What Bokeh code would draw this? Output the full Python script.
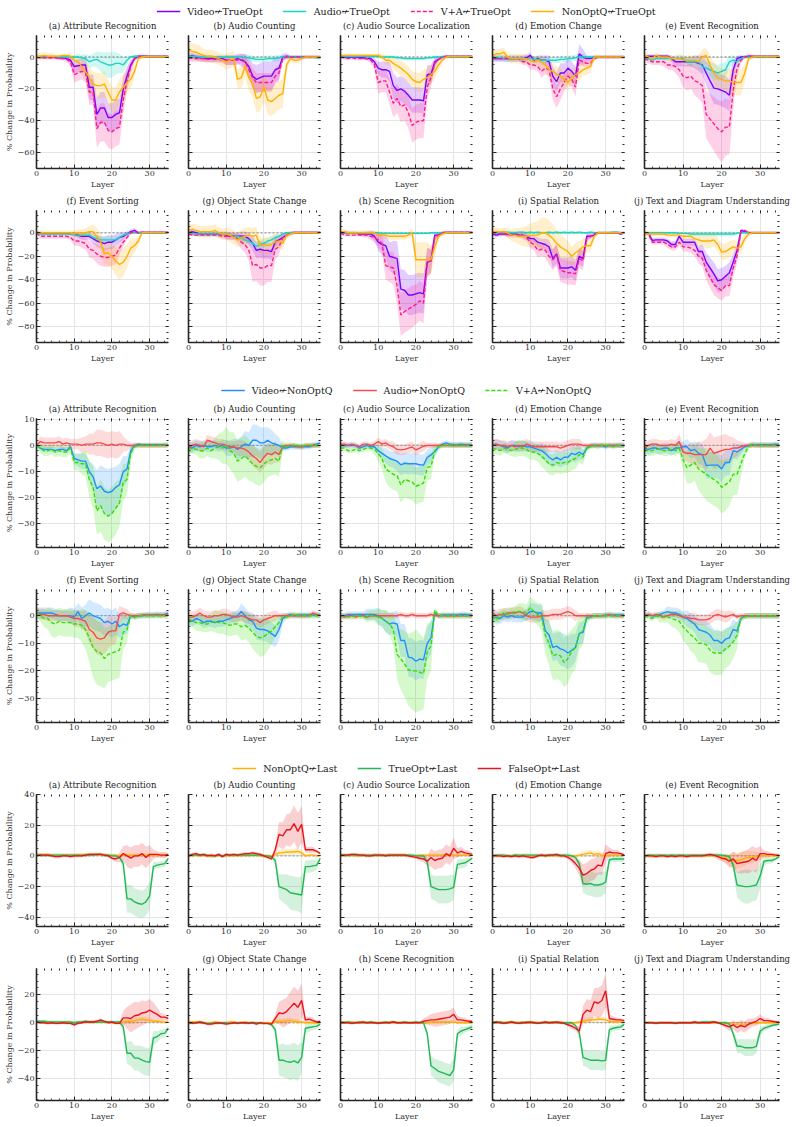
from bokeh.plotting import figure
from bokeh.layouts import column, row
from bokeh.models import (ColumnDataSource, Range1d, LinearAxis, SingleIntervalTicker,
                          Span, Legend, LegendItem, CustomJSTickFormatter, CustomLabelingPolicy)
from bokeh.embed import file_html
from bokeh.resources import INLINE

LAYERS = list(range(36))
TASKS = ["(a) Attribute Recognition", "(b) Audio Counting", "(c) Audio Source Localization",
         "(d) Emotion Change", "(e) Event Recognition", "(f) Event Sorting",
         "(g) Object State Change", "(h) Scene Recognition", "(i) Spatial Relation",
         "(j) Text and Diagram Understanding"]

FLAT_SD = [1,1,1,1,1,1,  1,1,1,1,1,1,  1,1,1,1,1,1,  1,1,1,1,1,1,  1,1,1,1,1,1,  1,1,1,1,1,1]

# ---------------- knockout towards the true option ----------------
TRUE_LABELS = ["Video\u219aTrueOpt", "Audio\u219aTrueOpt", "V+A\u219aTrueOpt", "NonOptQ\u219aTrueOpt"]
TRUE_COLORS = ["#7f00ff", "#18d6c3", "#ff1a8c", "#ffb000"]
TRUE_DASH = ["solid", "solid", "4 2", "solid"]

t_a_video = [0,0,0,0,0,0,  -0.5,-0.5,-1,-2,-6,-5.5,  -5,-5,-19,-19,-36,-32,  -32,-38,-38,-36,-35,-20,  -12,-5,-1,0.5,0.5,0.5,  0.3,0.3,0.3,0.3,0.3,0.3]
t_a_video_sd = [1,1,1,1,1,1,  1,1,1,2,4,4,  4,5,8,8,10,10,  10,9,9,9,9,8,  6,3,1,1,1,1,  1,1,1,1,1,1]
t_a_audio = [0,0,0,0,0,0,  0,0,0,0,0,0,  -0.5,-1,-3,-2,-1.5,-3,  -4,-5,-5,-4,-4,-5,  -2,0,0.5,0.3,0.3,0.3,  0.3,0.3,0.3,0.3,0.3,0.3]
t_a_audio_sd = [1,1,1,1,1,1,  1,1,1,1,1,2,  2,3,4,4,5,6,  7,8,8,7,6,5,  3,1,1,1,1,1,  1,1,1,1,1,1]
t_a_va = [0,-0.5,-0.5,-0.5,-0.5,-0.5,  -1,-1,-1.5,-3,-11,-10,  -9,-10,-22,-22,-45,-41,  -41,-46,-47,-45,-44,-27,  -15,-6,-1,0,0.3,0.3,  0.3,0.3,0.3,0.3,0.3,0.3]
t_a_va_sd = [1,1,1,1,1,1,  1,1,2,3,5,5,  5,6,8,8,12,12,  12,11,11,11,11,9,  7,4,2,1,1,1,  1,1,1,1,1,1]
t_a_nonopt = [0.5,0.5,1,0.5,0.5,0.5,  0.5,1,1,0.5,-2,-3,  -6,-9,-13,-17,-18,-18,  -17,-22,-27,-27,-22,-19,  -16,-14,-9,-1,0,0.3,  0.3,0.3,0.3,0.3,0.3,0.3]
t_a_nonopt_sd = [2,2,2,2,2,1,  1,1,1,2,3,4,  5,6,7,8,8,8,  8,8,8,8,8,8,  7,6,4,1,1,1,  1,1,1,1,1,1]

t_b_video = [0,1,0,-0.5,-1,-1,  -1,-1,-1,-1,-2,-2,  -2,-1,-2,-3,-6,-12,  -14,-13,-12,-12,-12,-8,  -7,0,0.5,0,0,0,  0,0,0,0,0,0]
t_b_video_sd = [2,2,2,2,2,2,  2,2,2,2,3,3,  3,3,4,5,6,8,  9,9,9,9,9,8,  7,2,2,1,1,1,  1,1,1,1,1,1]
t_b_audio = [0.5,0.5,0.5,0,0,0,  0,-0.5,0,0,0,0,  0,0,0,-0.5,-0.5,-1,  -1.5,-1.5,-1.5,-1,-1,-1,  -0.5,0,0,0,0,0,  0,0,0,0,-0.5,-0.5]
t_b_audio_sd = [1,1,1,1,1,1,  1,1,1,1,1,1,  1,1,1,2,2,2,  2,2,2,2,2,2,  2,1,1,1,1,1,  1,1,1,1,1,1]
t_b_va = [-0.5,-1,-1,-1,-1,-1.5,  -1.5,-1.5,-1.5,-2,-2,-2,  -2,-2,-1,-3,-8,-13,  -16,-16,-16,-16,-16,-12,  -10,-1,0,0,0,0,  0,0,0,0,0,0]
t_b_va_sd = [2,2,2,2,2,2,  2,2,2,2,3,3,  3,3,3,4,5,6,  6,6,6,6,6,5,  5,2,1,1,1,1,  1,1,1,1,1,1]
t_b_nonopt = [4,3.5,3,2,1,0.5,  0.5,0,-1,-2,-3,-2,  -1,-14,-13,-6,-13,-17,  -26,-25,-19,-27,-28,-26,  -24,-23,-5,-1,-2,-2,  -1,0,0,0,0,0]
t_b_nonopt_sd = [5,5,5,5,4,4,  4,4,4,4,5,5,  5,6,7,7,8,8,  9,9,9,9,9,9,  9,9,4,2,2,2,  1,1,1,1,1,1]

t_c_video = [0,0,0,0,0,0,  -0.5,-1,-1,-3,-7,-8,  -8,-9,-18,-21,-20,-21.5,  -24,-27,-27,-27,-27.5,-11,  -11,-3,-1.5,0,0.3,0.3,  0.3,0.3,0.3,0.3,0.3,0.3]
t_c_video_sd = [1,1,1,1,1,1,  1,1,1,2,4,5,  5,6,8,8,8,8,  8,8,8,8,8,6,  6,3,1,1,1,1,  1,1,1,1,1,1]
t_c_audio = [0.5,0.5,0.5,0.5,0.5,0.5,  0.5,0.5,0.5,0.5,0.5,0,  0,0,0,-0.5,-0.5,-1,  -1,-1,-1,-1,-1,-0.5,  -0.5,0,0,0,0,0,  0,0,0,0,0,0]
t_c_audio_sd = FLAT_SD
t_c_va = [0,-0.5,-1,-0.5,-1,-1,  -1,-1,-2,-5,-16,-15,  -15,-22,-29,-26,-31,-30,  -35,-43,-41,-40,-40,-19,  -13,-4,-1.5,0,0.3,0.3,  0.3,0.3,0.3,0.3,0.3,0.3]
t_c_va_sd = [1,1,1,1,1,1,  1,1,2,3,7,7,  7,8,9,9,10,10,  10,11,11,11,11,8,  6,3,1,1,1,1,  1,1,1,1,1,1]
t_c_nonopt = [1,1,1,1,1,1,  1,1,1,1,1,0,  -2,-2,-4,-5.5,-7,-9,  -11,-14,-15.5,-16,-14,-13,  -11,-9,-5,-2,0,0.3,  0.3,0.3,0.3,0.3,0.3,0.3]
t_c_nonopt_sd = [1,1,1,1,1,1,  1,1,1,1,1,2,  3,3,4,4,5,5,  5,5,6,6,6,6,  6,5,3,2,1,1,  1,1,1,1,1,1]

t_d_video = [-1,-1,-1,-1,-1,-1,  -1,-1,-1,-0.5,1,-2,  -1,-2,-2,-3,-12,-15.5,  -10,-10,-7,-9,-12,2,  0,-1,-1,0,0,0,  0,0,0,0,0,0]
t_d_video_sd = [2,2,2,2,2,2,  2,2,2,2,2,2,  2,3,3,4,6,6,  6,6,6,6,6,6,  5,2,2,1,1,1,  1,1,1,1,1,1]
t_d_audio = [0,-0.5,-0.5,-1,-1,-1,  -1,-1,-1,-1,-1,-1.5,  -1.5,-2,-2,-2,-2,-2,  -1.5,-1.5,-1,-1,-0.5,0,  0,0,0,0,0,0,  0,0,0,0,0,0]
t_d_audio_sd = [2,2,2,2,2,2,  2,2,2,2,2,2,  2,2,2,2,2,2,  2,2,2,2,2,2,  2,1,1,1,1,1,  1,1,1,1,1,1]
t_d_va = [-1,-1,-1,-1,-1,-1,  -1,-1,-3,-3,-5,-5,  -6,-9,-7,-8,-20,-25,  -20,-16,-12,-14,-19,-2,  -3,-4,-4,-1,0,0,  0,0,0,0,0,0]
t_d_va_sd = [1,1,1,1,1,1,  1,1,2,2,3,3,  3,4,4,4,7,7,  7,6,5,5,6,3,  3,2,2,1,1,1,  1,1,1,1,1,1]
t_d_nonopt = [1,2,2,3,0,-1,  -1,-1,-1,-1,-2,-3,  -2,-3,-5,-8,-9,-11,  -12,-14,-16,-13,-11,-10,  -8,-7,-6,0,0,0,  0,0,0,0,0,0]
t_d_nonopt_sd = [3,3,3,3,3,3,  3,3,3,3,3,3,  3,4,4,5,5,5,  5,5,5,5,5,5,  4,4,4,2,1,1,  1,1,1,1,1,1]

t_e_video = [0,0.5,0.5,0.5,0.5,0.5,  0.5,-1,-3,-3,-3,-3,  -3,-3,-4,-5,-10,-15,  -19.5,-20,-21,-22,-24,-8,  -1,0,0,0.5,0.3,0.3,  0.3,0.3,0.3,0.3,0.3,0.3]
t_e_video_sd = [1,1,1,1,1,1,  1,2,3,3,3,3,  3,4,5,6,8,9,  10,10,10,10,10,6,  2,1,1,1,1,1,  1,1,1,1,1,1]
t_e_audio = [0,-1,-2,-1,-1,-1,  -1,-1,-1,-1,-1,-3,  -3,-3,-3,-6,-7,-8,  -9,-10,-9,-8,-3,-2,  -3,-1,0,0,0,0,  0,0,0,0,0,0]
t_e_audio_sd = [1,1,1,1,1,1,  1,1,2,2,2,2,  3,3,3,4,4,5,  5,5,5,5,4,3,  3,2,1,1,1,1,  1,1,1,1,1,1]
t_e_va = [-1,-2,-3,-3,-3,-3,  -5,-5,-6,-8,-12,-13,  -12,-15,-16,-18,-36,-39,  -42,-45,-47,-44,-44,-21,  -7,-2,0,0.5,0.3,0.3,  0.3,0.3,0.3,0.3,0.3,0.3]
t_e_va_sd = [2,2,2,2,2,3,  3,3,4,5,7,8,  8,9,10,11,15,16,  17,18,19,18,17,12,  5,2,1,1,1,1,  1,1,1,1,1,1]
t_e_nonopt = [1,0,-1,1,0,0,  0,-1,-1,-1,-2,-2,  -2,-2,-3,0,1,-5,  -10,-13,-14,-15,-15,-16,  -16,-16,-10,-1,0,0.3,  0.3,0.3,0.3,0.3,0.3,0.3]
t_e_nonopt_sd = [2,2,2,2,2,2,  2,2,2,3,3,3,  3,3,4,5,5,6,  7,7,7,7,8,8,  8,8,6,2,1,1,  1,1,1,1,1,1]

t_f_video = [0,0,-0.5,-0.5,-0.5,-0.5,  -0.5,-0.5,-0.5,-1,-1,-2,  -3,-3,-3,-5,-7,-8,  -9.3,-8,-8,-6,-4,-3,  -1,1,2,0,0.3,0.3,  0.3,0.3,0.3,0.3,0.3,0.3]
t_f_video_sd = [1,1,1,1,1,1,  1,1,1,1,2,2,  3,3,3,4,5,5,  6,6,6,5,4,3,  2,2,2,1,1,1,  1,1,1,1,1,1]
t_f_audio = [0,-1,-1,-1,-1,-1,  -1,-1,-1,-1,-2,-2,  -2,-2,-2,-4,-5,-6,  -6,-6,-6,-6,-4,-2,  -1,0,0,0,0,0,  0,0,0,0,0,0]
t_f_audio_sd = [1,1,1,1,1,1,  1,1,1,1,1,2,  2,2,2,2,3,3,  3,3,3,3,2,2,  1,1,1,1,1,1,  1,1,1,1,1,1]
t_f_va = [0,-3,-3,-3,-3,-3,  -3,-3,-3,-4,-7,-7,  -8,-9,-14,-15,-18,-20,  -21,-21,-20,-19,-13,-8,  -4,0,1,0,0.3,0.3,  0.3,0.3,0.3,0.3,0.3,0.3]
t_f_va_sd = [1,2,2,2,2,2,  2,2,2,2,4,4,  5,5,7,7,8,8,  8,8,8,8,6,4,  2,1,1,1,1,1,  1,1,1,1,1,1]
t_f_nonopt = [0.5,0,0,0,0,0,  0,0,0,0,-1,0,  -1,0,1,1,-3,-8,  -18,-17,-20,-24,-27,-25,  -20,-13,-11,-7,0,0.3,  0.3,0.3,0.3,0.3,0.3,0.3]
t_f_nonopt_sd = [2,2,2,2,2,2,  2,2,2,2,3,3,  4,4,5,6,7,8,  9,10,11,12,13,12,  10,8,6,4,1,1,  1,1,1,1,1,1]

t_g_video = [0,1,0,-1,-1,-1,  -1,-1,-1,-1,-2,-3,  -3,-3,-3,-3,-5,-9,  -15,-14,-15,-15,-16,-8,  -6,-4,-2,0,0.3,0.3,  0.3,0.3,0.3,0.3,0.3,0.3]
t_g_video_sd = [2,2,2,2,2,2,  2,2,2,2,3,3,  3,3,4,4,5,6,  7,7,7,7,7,5,  4,3,2,1,1,1,  1,1,1,1,1,1]
t_g_audio = [0,-1,-1,-1,-1,-1,  -1,-1,-1,-1,-1,-2,  -3,-3,-4,-6,-7,-9,  -11.5,-10,-9,-7,-6,-4,  -3,-1,0,0,0,0,  0,0,0,0,0,0]
t_g_audio_sd = [1,1,1,1,1,1,  1,1,1,1,2,2,  2,2,3,3,3,4,  4,4,4,3,3,3,  2,1,1,1,1,1,  1,1,1,1,1,1]
t_g_va = [-1,-2,-2,-2,-2,-2,  -2,-2,-2,-3,-3,-3,  -3,-5,-8,-10,-15,-28,  -27,-30,-30,-28,-28,-14,  -12,-4,-2,-1,0,0,  0,0,0,0,0,0]
t_g_va_sd = [1,1,1,1,1,1,  1,1,2,2,3,3,  3,4,6,7,9,14,  14,15,15,14,14,9,  7,3,2,1,1,1,  1,1,1,1,1,1]
t_g_nonopt = [2,3,2,1,1,1,  1,2,0,-1,-1,-2,  -4,-6,-4,-3,-2,-3,  -2,-11,-10,-11,-10,-8,  -7,-9,-2,-1,0,0,  0,0,0,0,0,0]
t_g_nonopt_sd = [5,5,5,5,5,5,  5,5,5,5,5,6,  6,6,7,7,7,7,  7,7,7,7,7,7,  6,5,3,2,1,1,  1,1,1,1,1,1]

t_h_video = [0,0,0,0,0,-1,  -1,-1,-1,-3,-8,-10,  -11,-20,-21,-22,-48,-49,  -53,-53,-52,-51,-52,-25,  -24,-2,-2,0,0.3,0.3,  0.3,0.3,0.3,0.3,0.3,0.3]
t_h_video_sd = [1,1,1,1,1,1,  2,2,3,4,7,9,  10,12,14,15,17,17,  17,17,17,17,17,12,  10,3,2,1,1,1,  1,1,1,1,1,1]
t_h_audio = [0,0,0,0,0,0,  0,0,0,0,0,-0.5,  -0.5,-0.5,-0.5,-0.5,-0.5,-0.5,  -0.5,-0.5,-0.5,-0.5,-0.5,-0.5,  0,0,0,0,0,0,  0,0,0,0,0,0]
t_h_audio_sd = FLAT_SD
t_h_va = [0,-2,-2,-2,-2,-2,  -2,-2,-3,-4,-6,-9,  -28,-29,-30,-45,-70,-67,  -65,-63,-61,-58,-60,-25,  -24,-4,-2,0,0.3,0.3,  0.3,0.3,0.3,0.3,0.3,0.3]
t_h_va_sd = [1,1,1,1,1,1,  2,2,3,4,6,8,  12,13,14,16,18,18,  18,18,17,17,17,12,  10,3,2,1,1,1,  1,1,1,1,1,1]
t_h_nonopt = [1,1,0,0,0,0,  0,0,0,0,-2,-2,  -2,-3,-3,-3,-3,-3,  -2,0,-23,-23,-23,-23,  -23,-12,-3,-1,0,0,  0,0,0,0,0,0]
t_h_nonopt_sd = [2,2,2,2,2,2,  2,2,2,2,3,3,  3,3,3,3,3,3,  3,3,15,15,15,15,  12,8,3,2,1,1,  1,1,1,1,1,1]

t_i_video = [-1,-2,-1,-1,-1,-1,  -1,-2,-2,-3,-5,-5,  -8,-9,-10,-12,-22,-18,  -30,-30,-30,-29,-32,-20,  -22,-3,-3,-2,0,0,  0,0,0,0,-1,0]
t_i_video_sd = [2,2,2,2,2,2,  2,2,2,3,3,3,  4,4,5,6,8,8,  9,9,9,9,9,7,  7,3,2,1,1,1,  1,1,1,1,1,1]
t_i_audio = [0.5,0,0.5,0,0.5,0,  0,0.5,0.5,0,0.5,0,  0.5,0,0,0.5,0,0.5,  0,0.5,0,0.5,0,0.5,  0,0,0.5,0,0,0,  0,0,0.5,0.5,0,0]
t_i_audio_sd = FLAT_SD
t_i_va = [0,0,-1,0,-2,-2,  -2,-2,-2,-4,-8,-10,  -15,-14,-15,-20,-23,-19,  -32,-33,-34,-34,-35,-22,  -24,-5,-3,-1,0,0,  0,0,0,0,0,0]
t_i_va_sd = [2,2,2,2,2,2,  2,2,3,3,5,5,  6,6,6,7,9,9,  10,10,10,10,10,8,  8,3,2,1,1,1,  1,1,1,1,1,1]
t_i_nonopt = [1,1,1,1,0,-2,  -2,-3,-3,-3,-2,-2,  -2,0,0,-2,-5,-9,  -12,-14,-16,-20,-17,-15,  -12,-11,-11,-3,0,0,  0,0,0,0,0,0]
t_i_nonopt_sd = [3,3,3,3,4,5,  6,7,8,9,10,11,  12,13,13,13,12,12,  11,10,9,8,8,8,  7,6,5,3,1,1,  1,1,1,1,1,1]

t_j_video = [0,0,-6.5,-6,-6,-6,  -7,-10,-10,-3,-8,-8,  -8,-8,-16,-16,-25,-30,  -35,-41,-40,-37,-34,-25,  -15,2,1,0,0,0,  0,0,0,0,0,0]
t_j_video_sd = [1,1,2,2,2,2,  2,3,3,2,3,3,  3,3,5,6,8,9,  10,10,10,9,9,7,  5,2,1,1,1,1,  1,1,1,1,1,1]
t_j_audio = [0,0,0,0,0,0,  0,0,0,-0.5,-0.5,-0.5,  -1,-1,-1,-1,-1,-1,  -1,-1,-1,-1,-1,-1,  -0.5,0,0,0,0,0,  0,0,0,0,0,0]
t_j_audio_sd = [1,1,1,1,1,1,  1,1,1,1,1,1,  2,2,2,2,2,2,  2,2,2,2,2,2,  1,1,1,1,1,1,  1,1,1,1,1,1]
t_j_va = [0,-1,-8,-8,-8,-8,  -10,-12,-12,-8,-12,-12,  -13,-15,-20,-22,-32,-38,  -44,-47,-49,-45,-45,-30,  -20,1,2,0,0,0,  0,0,0,0,0,0]
t_j_va_sd = [1,1,2,2,2,2,  3,3,3,3,4,4,  4,5,6,7,8,9,  9,9,9,9,9,8,  6,2,1,1,1,1,  1,1,1,1,1,1]
t_j_nonopt = [-1,-1,-1,-1,-1,-1,  -2,-2,-2,-2,-3,-3,  -3,-5,-6,-7,-7,-7,  -6,-10,-16.5,-16,-14,-12,  -13,-12,-5,-1,0,0,  0,0,0,0,0,0]
t_j_nonopt_sd = [2,2,2,2,2,2,  2,2,2,3,3,3,  3,4,5,5,6,6,  6,6,7,7,7,6,  6,6,4,2,1,1,  1,1,1,1,1,1]

# ---------------- knockout towards the non-option question ----------------
NONOPT_LABELS = ["Video\u219aNonOptQ", "Audio\u219aNonOptQ", "V+A\u219aNonOptQ"]
NONOPT_COLORS = ["#1e90ff", "#f44c4c", "#33e000"]
NONOPT_DASH = ["solid", "solid", "4 2"]

n_a_video = [0,-1,-1.5,-1.5,-1.5,-2,  -1.5,-1.5,-2,-0.5,-5,-5.5,  -6,-6,-10,-12,-16.5,-15.5,  -17.5,-18,-17.5,-16,-15,-10,  -9,-2,0,0.5,0.3,0.3,  0.3,0.3,0.3,0.3,0.3,0.3]
n_a_video_sd = [0.5,1,1,1,1,1,  1,1,1,1,2,2.5,  3,3,4,5,7,8,  9,9,9,8,8,6,  5,2,1,0.5,0.5,0.5,  0.5,0.5,0.5,0.5,0.5,0.5]
n_a_audio = [0,1.5,1,1,1,1,  1.5,0.5,1,0.5,0.5,0.5,  0,0.5,0.5,0.5,1,1,  0.5,0,0.5,0,0.5,0.5,  0,0,0,0,0,0,  0,0,0,0,0,0]
n_a_audio_sd = [1,2,2,2,2,2,  2,2,2,2,2,2,  3,3,4,4,5,5,  5,5,5,5,5,3,  2,1,1,1,1,1,  1,1,1,1,1,1]
n_a_va = [0,-1,-2,-2,-1.5,-2.5,  -2,-2.5,-2.5,-1,-6.5,-6.5,  -7,-7,-13,-16,-25,-23,  -26,-27,-26,-24,-22,-14,  -13,-3,-0.5,0,0,0,  0,0,0,0,0,0.5]
n_a_va_sd = [1,2,2,2,2,2,  2,2,2,2,3,3,  4,5,7,8,9,10,  10,10,10,10,9,7,  6,3,1,1,1,1,  1,1,1,1,1,1]

n_b_video = [-0.5,-1,0,-0.5,0,-0.5,  -0.5,0,-0.5,0,-1,-1,  -0.5,-1.5,-0.5,0.5,0,2,  2,1,1,2,1,0.5,  0,-1,-1,-0.5,-0.5,-0.5,  -0.5,-0.5,-0.5,0,0.5,1]
n_b_video_sd = [2,2,2,2,2,2,  2,2,2,2,3,3,  3,4,4,5,5,6,  6,6,6,5,5,4,  3,1,1,1,1,1,  1,1,1,1,1,1]
n_b_audio = [-1,0,0.5,0,-0.5,2,  1.5,1,0.5,0.5,0,-0.5,  -0.5,-1,-1,-1.5,-2.5,-4,  -5,-6.5,-4.5,-3,-3.5,-2.5,  -3.5,-0.5,0,0,0,-0.5,  -0.5,0,0,0,0,0]
n_b_audio_sd = [2,2,2,2,2,2,  2,2,2,2,2,2,  2,3,3,3,3,4,  4,4,4,4,4,4,  3,1,1,1,1,1,  1,1,1,1,1,1]
n_b_va = [-1.5,-1,-1.5,-2,-2,-1,  -2,-1,-0.5,-1,0,-2,  -3,-6,-5,-4,-5.5,-7,  -8,-8.5,-7,-6,-5.5,-5,  -6,0,-0.5,0,0,0,  -0.5,0,0,0,0,0]
n_b_va_sd = [2,2,2,3,3,3,  3,4,5,6,7,7,  8,8,8,8,8,7,  7,7,7,6,6,6,  6,2,1,1,1,1,  1,1,1,1,1,1]

n_c_video = [0,0,0,0,0,-1,  -0.5,0,-0.5,-0.5,-2,-3,  -4,-5,-5.5,-6,-7.4,-6.8,  -7,-7,-7,-7.4,-7.5,-4.6,  -3.6,-2.4,-0.6,0.4,1,0.5,  0.3,0.3,0.5,0.3,0.3,0.3]
n_c_video_sd = [1,1,1,1,1,1,  1,1,1,1,2,2,  3,3,3,4,4,4,  4,4,4,4,4,3,  3,2,1,1,1,1,  1,1,1,1,1,1]
n_c_audio = [0.5,0.5,0,0.5,0,-0.5,  0.5,0.5,0,0.5,1.5,0.5,  1,0,-0.5,-1.5,-1.7,-1.5,  -1,-0.6,-1.7,-1,-0.3,0,  0,0,0,0,0,0,  0,0,0,0,0,0]
n_c_audio_sd = [1,1,1,1,1,1,  1,1,1,1,1.5,1.5,  1.5,1.5,2,2,2,2,  2,2,2,2,2,1,  1,1,1,1,1,1,  1,1,1,1,1,1]
n_c_va = [-1,-1,-2,-2,-1.5,-2,  -1.5,-1,-1,-1.5,-3,-5,  -9,-10,-11,-11.5,-15,-13,  -13.5,-14,-15.6,-15,-14.4,-8.4,  -8,-2,-0.5,0,0,0,  0,0,0,0,0,0]
n_c_va_sd = [1,1,1,1,1,1,  1,1,1,2,3,4,  5,6,6,6,7,7,  7,7,7,7,7,5,  5,2,1,1,1,1,  1,1,1,1,1,1]

n_d_video = [0,0.5,0,-0.5,-1,0,  0,-0.5,0,-0.5,-0.5,-1,  -1.5,-2,-3,-4.5,-5.5,-4.5,  -5.5,-4.5,-4.5,-3,-3.5,-2.5,  -3.5,-1,0,0,0,0,  -0.5,0,0,0,0,0]
n_d_video_sd = [2,2,2,2,2,2,  2,2,2,2,2,2,  2,3,3,3,3,3,  3,3,3,3,3,3,  2,1,1,1,1,1,  1,1,1,1,1,1]
n_d_audio = [0.5,0.5,0,0,-0.5,0,  -0.5,0,-0.5,0.5,0,-0.5,  -0.5,-0.5,-0.5,-0.5,-0.5,-0.5,  -1,-0.5,0,0.5,0.5,0.5,  0,0,0,0,0,0,  0,0,0,0,0,0]
n_d_audio_sd = [2,2,2,2,2,2,  2,2,2,2,2,2,  2,2,2,2,2,2,  2,2,2,2,2,2,  1,1,1,1,1,1,  1,1,1,1,1,1]
n_d_va = [-1,-1.5,-2,-1,-1.5,-2,  -1.5,-1,-1,-1.5,-2.5,-2.5,  -3,-4,-5.5,-7,-7.5,-6.5,  -7,-6.5,-6.5,-5.5,-5,-3.5,  -4.5,-1,-0.5,0,-0.5,0,  0,0,-0.5,0,0,0]
n_d_va_sd = [2,2,2,2,2,2,  3,3,3,3,3,3,  3,4,4,4,4,4,  4,4,4,4,4,3,  3,1,1,1,1,1,  1,1,1,1,1,1]

n_e_video = [-1,-1.5,-1,-1,-1.5,-1,  -1,-2,-1,-1,-0.5,-0.5,  -2,-1.5,-3,-3.5,-7.7,-7.5,  -7.5,-7.5,-9,-6.5,-6.5,-2,  -2.5,-1.5,-0.5,0,0.3,0.3,  0.3,0.3,0.3,0.3,0.5,0.3]
n_e_video_sd = [2,2,2,2,2,2,  2,2,2,2,2,3,  3,3,4,4,5,5,  5,5,5,5,5,3,  3,2,1,1,1,1,  1,1,1,1,1,1]
n_e_audio = [-1,0,0.5,0.5,0,0,  0,0.5,0,1.5,-2.5,-3,  -3,-3.5,-3.5,-3.5,-3.5,-1,  -3,-2.5,-2,-1.5,-1.5,-1,  -1,-0.5,0,0,0,0,  0,0,0,0,0,0]
n_e_audio_sd = [2,2,2,2,2,2,  2,2,2,3,3,3,  4,4,5,5,6,6,  6,6,6,6,5,4,  3,2,1,1,1,1,  1,1,1,1,1,1]
n_e_va = [-1.5,-2,-2,-1.5,-1.5,-2,  -2,-1.5,-2,-1,-5.5,-8.5,  -7.5,-6.5,-9,-10,-11,-12,  -13,-14,-16,-15,-14,-11,  -11,-7,-3,-0.5,0.5,0,  0,0,0,0,0,0]
n_e_va_sd = [2,2,2,2,2,2,  2,2,2,2,4,6,  7,7,8,9,10,10,  10,10,10,10,9,8,  8,5,2,1,1,1,  1,1,1,1,1,1]

n_f_video = [1,1,1,1,1,0.5,  0,0,0,0,-0.5,1.5,  -1,0,1,0,-0.5,-1,  -2.5,-2,-3,-2,-4,-3,  -3.5,0,-0.5,0,0,0.3,  0.3,0.3,0.5,0.3,0.5,1]
n_f_video_sd = [2,2,2,2,2,2,  2,2,2,3,3,3,  4,4,5,5,5,5,  5,5,5,5,4,4,  3,1,1,1,1,1,  1,1,1,1,1,1]
n_f_audio = [1,0.5,0.5,0,0,0,  0,0,0,-0.5,-1,-1,  -1.5,-2,-5,-6,-8,-8.5,  -8,-6,-5.5,-5.5,0.5,1,  0.5,0,0,0,0.3,0.3,  0.3,0.3,0.3,0.3,0.3,0.5]
n_f_audio_sd = [2,2,2,2,2,2,  2,2,2,2,3,3,  3,4,5,6,6,6,  6,6,5,5,3,2,  2,1,1,1,1,1,  1,1,1,1,1,1]
n_f_va = [1,0,-1,-1,-2.5,-3,  -2,-2.5,-2.5,-2.5,-3,-3,  -3.5,-5,-8,-11.5,-13,-13.5,  -15.5,-14,-13.5,-13,-12.5,-6,  -5,0,-0.5,0,0,0,  0,0,0,0,0,0]
n_f_va_sd = [2,2,3,4,5,5,  5,5,5,5,5,5,  6,7,9,11,12,12,  11,10,10,10,10,6,  5,1,1,1,1,1,  1,1,1,1,1,1]

n_g_video = [-1.5,-2,-1,-1.5,-2.5,-2,  -2,-2.5,-2,-2,-1.5,-1,  -0.5,0,1.5,0,-1.5,-2,  -4.5,-5,-5,-5.5,-6.5,-7.5,  -5,-1,0,0.5,0,0.3,  0.3,0.3,0.3,0.3,0.3,0.3]
n_g_video_sd = [2,2,2,2,2,2,  2,2,2,2,2,2,  2,2,3,3,3,3,  4,4,4,4,4,4,  4,2,1,1,1,1,  1,1,1,1,1,1]
n_g_audio = [-0.5,-0.5,0,1,0,-0.5,  -0.5,0,0,0.5,0.5,0,  -0.5,-0.5,0,-0.5,-1,-1.5,  -1.5,-2.5,-1.5,-1,-0.5,0,  0,0,0,0,0,0,  0,0,0,1,0.5,0]
n_g_audio_sd = [2,2,2,2,2,2,  2,2,2,2,2,2,  2,2,2,2,2,2,  2,2,2,2,2,2,  1,1,1,1,1,1,  1,1,1,1,1,1]
n_g_va = [-1,-2,-2.5,-2.5,-3,-3,  -2.5,-2,-2.5,-2.5,-3,-3.5,  -3,-3,-4,-3.5,-4.5,-6,  -7.5,-8,-7.5,-6.5,-5.5,-4,  -2.5,-0.5,-0.5,0,0.5,0,  0,0,0,0,0,0]
n_g_va_sd = [2,2,3,3,3,3,  3,4,4,4,4,4,  4,4,5,5,5,6,  6,7,7,6,5,4,  3,1,1,1,1,1,  1,1,1,1,1,1]

n_h_video = [0,0,0.5,0.5,0.5,0.5,  0.5,0.5,0.5,0.5,0,-1,  -2,-3,-2.6,-3,-9,-9,  -15,-15.3,-16.5,-15.7,-16,-10,  -8,1,0,0.3,0.3,0.3,  0.3,0.3,0.5,0.5,0.3,0.3]
n_h_video_sd = [1,1,1,1,1,1,  1,2,2,2,3,3,  4,4,4,5,6,6,  7,7,7,7,7,6,  6,1,1,1,1,1,  1,1,1,1,1,1]
n_h_audio = [0,-0.5,0,0,-0.5,0,  0,-0.5,0,0,0,0,  0,0,0,0,0.5,0,  0,0.5,0,0,0,0,  0.5,0,0,0,0,0,  0,0,0,0,0,0]
n_h_audio_sd = FLAT_SD
n_h_va = [0,0,-0.5,-0.5,0,0,  -0.5,-0.5,0,0,-0.5,-1,  -2,-3,-5,-14,-15.7,-17.5,  -19.6,-20,-20,-20.5,-21,-13,  -11,2,0,0,0,0,  0,0,0,0,0,0]
n_h_va_sd = [1,1,1,1,1,1,  1,2,2,2,3,3,  4,4,6,9,11,12,  13,14,15,14,13,10,  9,1,1,1,1,1,  1,1,1,1,1,1]

n_i_video = [-0.5,-0.5,-1,0,-0.5,0,  -0.5,-0.5,-0.5,0.5,1.5,1.5,  1,1,-5.5,-7,-11.5,-11,  -12,-12.5,-13.5,-12.5,-11.5,-6.5,  -6,-0.5,-0.5,0,0,0,  0.3,0.3,0.3,0.3,0.3,0.3]
n_i_video_sd = [2,2,2,2,2,2,  2,2,2,2,3,3,  3,3,4,5,5,5,  6,6,6,6,5,4,  4,1,1,1,1,1,  1,1,1,1,1,1]
n_i_audio = [1,0,0.5,0.5,1,1,  1,1.5,1,0,-0.5,-0.5,  -0.5,0,0,0,0.5,0.5,  0.5,1,1.5,1,0,0,  0,0,0,0,0,0,  0,0.5,0,0,0,0]
n_i_audio_sd = [2,2,2,2,2,2,  2,2,2,2,2,2,  2,2,2,2,2,2,  2,2,2,2,2,1,  1,1,1,1,1,1,  1,1,1,1,1,1]
n_i_va = [0,-1.5,0,1,0.5,1,  1.5,1.5,1.5,1,3,1.5,  0.5,-0.5,-7,-10,-14.5,-14,  -14.5,-17,-15.5,-13,-11.5,-6.5,  -5.5,-1,-0.5,0,0,0,  0,0,0,0,0,0]
n_i_va_sd = [2,2,2,2,2,2,  2,3,3,3,4,4,  4,5,7,8,9,9,  9,9,9,8,8,6,  5,2,1,1,1,1,  1,1,1,1,1,1]

n_j_video = [0,0.5,0,0,0.5,1,  1.5,1,1,0.5,-0.5,-1,  -2,-3,-5,-5.5,-6,-7,  -9,-9,-10,-8.5,-8,-5,  -5.5,-1,0,0,0,0,  0,0,0,0,0,0]
n_j_video_sd = [1,1,1,1,1,1,  2,2,2,2,2,3,  3,3,4,4,4,4,  4,4,4,4,4,4,  3,1,1,1,1,1,  1,1,1,1,1,1]
n_j_audio = [0,0.5,0,0.5,0,-0.5,  0,0.5,0.5,0,-0.5,-0.5,  -1,-1,-1.5,-1.5,-1.5,-1,  0,0.5,0,-0.5,0,0.5,  -0.5,0,0,0,0,0,  0,0,0,0,0,0]
n_j_audio_sd = [1,1,1,1,1,1,  1,1,1,1,1,1,  2,2,2,2,2,2,  2,2,2,2,2,1,  1,1,1,1,1,1,  1,1,1,1,1,1]
n_j_va = [0,-0.5,-1,0,-0.5,-0.5,  -0.5,-1,-1.5,-2,-4,-5.5,  -7,-8,-10,-10,-10.5,-12.5,  -13.5,-13.5,-13.5,-12,-11,-9.5,  -7,-1,-0.5,0,0,0,  0,0,0,0,0,0]
n_j_va_sd = [1,1,1,1,2,2,  2,3,3,4,5,5,  6,6,7,7,7,8,  8,8,8,7,7,6,  5,1,1,1,1,1,  1,1,1,1,1,1]

# ---------------- knockout towards the last position ----------------
LAST_LABELS = ["NonOptQ\u219aLast", "TrueOpt\u219aLast", "FalseOpt\u219aLast"]
LAST_COLORS = ["#ffb000", "#22b856", "#e6141b"]
LAST_DASH = ["solid", "solid", "solid"]

l_a_nonopt = [1,1,0.5,1,0.5,0.5,  0.5,0.5,0.5,0.5,0.5,1,  0.5,1,1,1,1,1,  0.5,0.5,0.5,0.5,0,0.5,  0.5,0.5,0.5,0.5,0.5,0.5,  0.5,0.5,0.5,0.5,0.5,0.5]
l_a_nonopt_sd = FLAT_SD
l_a_true = [0,0.5,0.5,0.5,0.5,0.5,  0.5,0.5,0.5,0.5,0.5,0.5,  0.5,0.5,0.5,0.5,1,1,  0.5,0.5,0,0,-1,-5,  -28,-28,-30,-31,-31.5,-30,  -26,-7,-6,-5.5,-5,-1.5]
l_a_true_sd = [1,1,1,1,1,1,  1,1,1,1,1,1,  1,1,1,1,1,1,  1,1,1,1,1,3,  9,9,9,9,9,9,  9,3,2,2,2,1]
l_a_false = [0.5,0.5,0.5,0.5,0,-0.5,  -0.5,0,0,-0.5,0,0,  0,0.5,1,1,1,1,  0.5,0,-1.5,-2,-1,1.5,  0,-1.5,0,0,1.5,-1,  1,1,1,0.5,0.5,1]
l_a_false_sd = [1,1,1,1,1,1,  1,1,1,1,1,1,  1,1,1,1,1,1,  1,1,1,2,3,5,  7,7,7,7,7,7,  6,3,2,2,2,1]

l_b_nonopt = [0.5,0,1,0,0.5,0,  -0.5,0,0.5,0,0,0.5,  0,0.5,0,0.5,0,0.5,  0.5,0,0,0,0,1,  2,2,2.5,2.5,2.5,3,  2,0,0.5,0.5,0,0]
l_b_nonopt_sd = [1,1,1,1,1,1,  1,1,1,1,1,1,  1,1,1,1,1,1,  1,1,1,1,1,1,  2,2,2,2,2,2,  2,1,1,1,1,1]
l_b_true = [0,0.5,0.5,0.5,0.5,0.5,  0,0,0.5,0,0.5,0.5,  0.5,0.5,0.5,0.5,0.5,0.5,  0.5,0.5,0,0,-0.5,-3,  -20,-21,-22,-24,-24.5,-25,  -25.5,-7,-7,-6.5,-6,-1.5]
l_b_true_sd = [1,1,1,1,1,1,  1,1,1,1,1,1,  1,1,1,1,1,1,  1,1,1,1,1,3,  8,9,10,11,11,11,  12,4,4,4,3,1]
l_b_false = [0,1,1.5,0.5,1,0,  0.5,0,1,-0.5,1,0.5,  1,0.5,1,1.5,1.5,2,  1.5,1,0,-1,-2,4,  14,13,17,17,21,16,  20.5,4,4,4,3,1.5]
l_b_false_sd = [1,1,1,1,1,1,  1,1,1,1,1,1,  1,1,1,1,1,1,  1,1,1,1,1,3,  8,9,10,11,12,12,  12,2,2,2,1,1]

l_c_nonopt = [0.5,0,0.5,0.5,0,0,  0.5,0.5,0,0.5,0.5,0,  0.5,0.5,0.5,0.5,0.5,0.5,  0.5,0,0,0.5,0.5,0.5,  0.5,0.5,0.5,0.5,0.5,0.5,  0.5,0.5,0.5,0.5,0.5,0.5]
l_c_nonopt_sd = FLAT_SD
l_c_true = [0.5,0.5,0.5,0.5,0.5,0.5,  0.5,0.5,0.5,0.5,0.5,0.5,  0.5,0.5,0.5,0.5,0.5,0.5,  0.5,0.5,0,0,0,-4,  -20,-21,-22,-22,-22,-21.5,  -20.5,-5.5,-5,-4.5,-3,-1.5]
l_c_true_sd = [1,1,1,1,1,1,  1,1,1,1,1,1,  1,1,1,1,1,1,  1,1,1,1,1,3,  8,8,9,9,9,9,  8,3,3,3,2,1]
l_c_false = [0.5,0.5,0.5,1,1,0.5,  0.5,0,0,0.5,0.5,0.5,  0,0.5,0.5,0.5,0.5,0.5,  0,-0.5,-1,-1.5,-2,-3.5,  -1,-3,-2,-1.5,1.5,0,  5,2,3,2,1.5,1]
l_c_false_sd = [1,1,1,1,1,1,  1,1,1,1,1,1,  1,1,1,1,1,1,  1,1,1,2,2,3,  6,6,6,6,6,6,  7,3,3,2,2,1]

l_d_nonopt = [0.5,0,0,0.5,0,0,  0.5,0,0,0.5,0,0,  0,0.5,0,0,0.5,0,  0,0,0,0,0,0.5,  1,1.5,2,1,1.5,0.5,  0,0.5,0.5,0.5,0.5,0.5]
l_d_nonopt_sd = [1,1,1,1,1,1,  1,1,1,1,1,1,  1,1,1,1,1,1,  1,1,1,1,1,1,  2,2,2,2,2,2,  1,1,1,1,1,1]
l_d_true = [0,0.5,0.5,0.5,0,0,  0.5,0.5,0.5,0.5,0.5,0.5,  0.5,0.5,0.5,0.5,0.5,0.5,  0.5,0.5,0.5,0,-1,-5,  -18,-18.5,-18,-19,-19,-18.5,  -17,-2.5,-2,-2,-2,-2]
l_d_true_sd = [1,1,1,1,1,1,  1,1,1,1,1,1,  1,1,1,1,1,1,  1,1,1,1,1,3,  6,7,8,8,8,8,  7,2,2,2,2,2]
l_d_false = [0,0,0,-0.5,0,-0.5,  0,-0.5,0,-0.5,-1,-1,  0,0.5,0,0.5,0.5,1,  0,0,-1,-2.5,-5,-8,  -12.5,-11.5,-9.5,-8.5,-6,-6.5,  1.5,2.5,2,2,1.5,0.5]
l_d_false_sd = [1,1,1,1,1,1,  1,1,1,1,1,1,  1,1,1,1,1,1,  1,1,1,2,3,5,  7,7,7,7,6,6,  6,3,2,2,1,1]

l_e_nonopt = [0,0,-0.5,0,0,0,  -0.5,0,0,0,-0.5,0,  0,0,0,0,0,0,  0,0,-1,-1.5,-2.5,-3,  -3,-2.5,-1.5,-1,-1,-0.5,  0,0,0,0,0,0]
l_e_nonopt_sd = [1,1,1,1,1,1,  1,1,1,1,1,1,  1,1,1,1,1,1,  1,1,2,3,4,5,  5,5,5,4,4,3,  2,1,1,1,1,1]
l_e_true = [0,0.5,0.5,0.5,0.5,0.5,  0.5,0.5,0.5,0.5,0.5,0.5,  0.5,0.5,0.5,0.5,0.5,0.5,  0.5,0.5,0.5,0,-0.5,-6,  -19,-19.5,-20,-20,-19.5,-19,  -13,-3.5,-3,-3,-2,-0.5]
l_e_true_sd = [1,1,1,1,1,1,  1,1,1,1,1,1,  1,1,1,1,1,1,  1,1,1,1,1,4,  8,10,11,11,10,10,  8,3,2,2,1,1]
l_e_false = [0,0,0,-0.5,0,0,  -0.5,0,-0.5,0,0,-0.5,  0,0,0,0,0.5,1,  0.5,-0.5,-1.5,-2,-3.5,-2,  -5,-4.5,-4,-3.5,-1.5,-3,  1.5,1.5,1,1,0.5,0.5]
l_e_false_sd = [1,1,1,1,1,1,  1,1,1,1,1,1,  1,1,1,1,1,1,  1,2,2,3,4,5,  6,7,7,8,8,8,  5,2,2,1,1,1]

l_f_nonopt = [0.5,0.5,0.5,0.5,0,0,  0,0,0.5,0,0,0,  0.5,0.5,0.5,0.5,0.5,0.5,  0.5,0.5,0,0,0,0.5,  1,1,1.5,2,2.5,2,  1.5,1,1,0.5,0.5,0.5]
l_f_nonopt_sd = [1,1,1,1,1,1,  1,1,1,1,1,1,  1,1,1,1,1,1,  1,1,1,1,1,1,  2,2,2,2,2,2,  2,1,1,1,1,1]
l_f_true = [1,1,1,0.5,0.5,0.5,  0.5,0.5,0.5,0.5,0,0.5,  0.5,1,0.5,0.5,0.5,0.5,  0.5,0.5,0.5,0.5,0.5,-3,  -22,-22,-25.5,-25.5,-27,-28,  -28.5,-11,-10,-8,-7.5,-4]
l_f_true_sd = [1,1,1,1,1,1,  1,1,1,1,1,1,  1,1,1,1,1,1,  1,1,1,1,1,3,  8,9,9,9,10,10,  10,5,4,3,3,2]
l_f_false = [0.5,0,0,-0.5,0,-0.5,  -0.5,0,-0.5,-0.5,-1.5,-0.5,  0,0.5,0.5,0.5,1,2,  1,0,0.5,-0.5,-0.5,3.5,  3.5,3,5,5.5,7,7.5,  9,7.5,6,4,4,3]
l_f_false_sd = [1,1,1,1,1,1,  1,1,1,1,1,1,  1,1,1,1,1,1,  1,1,1,1,1,5,  8,10,10,9,9,8,  8,7,5,3,2,2]

l_g_nonopt = [0.5,0.5,0.5,0.5,0,0,  0,0.5,0,0,0,0.5,  0.5,0,0,0.5,0,0,  0,0,0,0,0,0.5,  1,1,1.5,1.5,1,0.5,  0.5,0,0,0,0,0]
l_g_nonopt_sd = [1,1,1,1,1,1,  1,1,1,1,1,1,  1,1,1,1,1,1,  1,1,1,1,1,2,  2,2,2,2,2,2,  1,1,1,1,1,1]
l_g_true = [0,0,0,0,-0.5,-0.5,  -0.5,0,-0.5,0,0,-0.5,  0,0,0,-0.5,0,0,  0,-0.5,-0.5,-0.5,-1.5,-5,  -27,-27,-28,-28.5,-27.5,-29,  -25,-4,-3.5,-3,-2.5,-1]
l_g_true_sd = [1,1,1,1,1,1,  1,1,1,1,1,1,  1,1,1,1,1,1,  1,1,1,1,1,3,  11,12,12,13,13,13,  11,3,3,2,2,1]
l_g_false = [0,-0.5,0,0.5,0,-1,  -1,-0.5,0,-0.5,-1,-0.5,  0,-0.5,0,0,-0.5,0,  -1,0,-0.5,-0.5,-1,3,  7,6.5,8,11,14,11,  16,2,2.5,1.5,0.5,1]
l_g_false_sd = [1,1,1,1,1,1,  1,1,1,1,1,1,  1,1,1,1,1,1,  1,1,1,1,1,3,  8,10,10,11,12,12,  12,2,2,2,1,1]

l_h_nonopt = [0,0.5,0,0.5,0,0,  0,0,0.5,0,0,0,  0,0.5,0,0,0,0.5,  0,0,0,0,0,0,  0.5,0.5,0.5,0.5,0.5,0.5,  0.5,0,0,0,0,0]
l_h_nonopt_sd = FLAT_SD
l_h_true = [0.5,0,0.5,0,0,0.5,  0,0,0.5,0,0,0,  0.5,0,0.5,0,0,0.5,  0,0,0.5,0,0,-8,  -31,-33,-35,-36,-37,-38,  -34,-8,-6,-5,-4,-3]
l_h_true_sd = [1,1,1,1,1,1,  1,1,1,1,1,1,  1,1,1,1,1,1,  1,1,1,1,1,3,  7,7,8,8,8,8,  8,3,3,2,2,2]
l_h_false = [0,0,0,-0.5,0,0,  0.5,0,0,0,-0.5,0,  0,0,0.5,0,0,0,  0,0,0,0,1,1.5,  2,2,2.5,3,3.5,4,  6,2,2,1.5,1,1]
l_h_false_sd = [1,1,1,1,1,1,  1,1,1,1,1,1,  1,1,1,1,1,1,  1,1,1,1,2,3,  4,5,5,5,5,5,  5,3,2,2,1,1]

l_i_nonopt = [0,0.5,0,0,0.5,0,  0,0,0.5,0,0,0.5,  0,0,0,0.5,0,0,  0.5,0,0,0,0,0.5,  1,1.5,2,2,2.5,2.5,  2,1,0.5,0.5,0.5,0.5]
l_i_nonopt_sd = [1,1,1,1,1,1,  1,1,1,1,1,1,  1,1,1,1,1,1,  1,1,1,1,1,1,  2,2,2,2,2,2,  2,1,1,1,1,1]
l_i_true = [0,0,0.5,0,0,0.5,  0,0,0,0.5,0,0,  0,0,0,0,0.5,0,  0,0,0,0,-2,-7,  -25,-26,-27,-27,-27,-27.5,  -27,-5,-4,-3.5,-3,-1]
l_i_true_sd = [1,1,1,1,1,1,  1,1,1,1,1,1,  1,1,1,1,1,1,  1,1,1,1,1,3,  6,6,7,7,7,7,  7,3,2,2,2,1]
l_i_false = [0,0.5,0,-0.5,0,0.5,  0,-0.5,0,0,0.5,0,  -0.5,0,0.5,0,0,0.5,  0,-0.5,-1.5,-2.5,-4,-6,  6,9,8,15,14,16,  23,3,2.5,2,2,1.5]
l_i_false_sd = [1,1,1,1,1,1,  1,1,1,1,1,1,  1,1,1,1,1,1,  1,1,1,2,2,3,  6,8,8,10,11,11,  12,3,2,2,1,1]

l_j_nonopt = [0,0,0,0,0,0,  0,0,0,0,0,0,  0,0,0,0,0,0,  0,0,0,0,-0.5,-1,  -1,-1,-1,-1,-0.5,-0.5,  0,0,0,0,0,0]
l_j_nonopt_sd = FLAT_SD
l_j_true = [0,0,0,0,0,0,  0,0,0,0,0,0,  0,0,0,0.5,0.5,0.5,  0.5,0,0,0,-1,-8,  -17,-17,-18,-18,-18,-17,  -6,-4,-3,-2,-1.5,-1]
l_j_true_sd = [1,1,1,1,1,1,  1,1,1,1,1,1,  1,1,1,1,1,1,  1,1,1,1,1,3,  5,5,6,6,6,5,  3,2,2,1,1,1]
l_j_false = [0,0,0,-0.5,0,0,  0,0,-0.5,0,0,0,  0,0.5,0,0,0,0,  0.5,0,-1,-2,-3,-1.5,  -3.5,-2,-3,-1,0,1,  3,1.5,1.5,1,0.5,0.5]
l_j_false_sd = [1,1,1,1,1,1,  1,1,1,1,1,1,  1,1,1,1,1,1,  1,1,1,2,3,3,  4,4,4,4,3,3,  3,2,2,1,1,1]

TRUE_PANELS = [
    [(t_a_video, t_a_video_sd), (t_a_audio, t_a_audio_sd), (t_a_va, t_a_va_sd), (t_a_nonopt, t_a_nonopt_sd)],
    [(t_b_video, t_b_video_sd), (t_b_audio, t_b_audio_sd), (t_b_va, t_b_va_sd), (t_b_nonopt, t_b_nonopt_sd)],
    [(t_c_video, t_c_video_sd), (t_c_audio, t_c_audio_sd), (t_c_va, t_c_va_sd), (t_c_nonopt, t_c_nonopt_sd)],
    [(t_d_video, t_d_video_sd), (t_d_audio, t_d_audio_sd), (t_d_va, t_d_va_sd), (t_d_nonopt, t_d_nonopt_sd)],
    [(t_e_video, t_e_video_sd), (t_e_audio, t_e_audio_sd), (t_e_va, t_e_va_sd), (t_e_nonopt, t_e_nonopt_sd)],
    [(t_f_video, t_f_video_sd), (t_f_audio, t_f_audio_sd), (t_f_va, t_f_va_sd), (t_f_nonopt, t_f_nonopt_sd)],
    [(t_g_video, t_g_video_sd), (t_g_audio, t_g_audio_sd), (t_g_va, t_g_va_sd), (t_g_nonopt, t_g_nonopt_sd)],
    [(t_h_video, t_h_video_sd), (t_h_audio, t_h_audio_sd), (t_h_va, t_h_va_sd), (t_h_nonopt, t_h_nonopt_sd)],
    [(t_i_video, t_i_video_sd), (t_i_audio, t_i_audio_sd), (t_i_va, t_i_va_sd), (t_i_nonopt, t_i_nonopt_sd)],
    [(t_j_video, t_j_video_sd), (t_j_audio, t_j_audio_sd), (t_j_va, t_j_va_sd), (t_j_nonopt, t_j_nonopt_sd)],
]
NONOPT_PANELS = [
    [(n_a_video, n_a_video_sd), (n_a_audio, n_a_audio_sd), (n_a_va, n_a_va_sd)],
    [(n_b_video, n_b_video_sd), (n_b_audio, n_b_audio_sd), (n_b_va, n_b_va_sd)],
    [(n_c_video, n_c_video_sd), (n_c_audio, n_c_audio_sd), (n_c_va, n_c_va_sd)],
    [(n_d_video, n_d_video_sd), (n_d_audio, n_d_audio_sd), (n_d_va, n_d_va_sd)],
    [(n_e_video, n_e_video_sd), (n_e_audio, n_e_audio_sd), (n_e_va, n_e_va_sd)],
    [(n_f_video, n_f_video_sd), (n_f_audio, n_f_audio_sd), (n_f_va, n_f_va_sd)],
    [(n_g_video, n_g_video_sd), (n_g_audio, n_g_audio_sd), (n_g_va, n_g_va_sd)],
    [(n_h_video, n_h_video_sd), (n_h_audio, n_h_audio_sd), (n_h_va, n_h_va_sd)],
    [(n_i_video, n_i_video_sd), (n_i_audio, n_i_audio_sd), (n_i_va, n_i_va_sd)],
    [(n_j_video, n_j_video_sd), (n_j_audio, n_j_audio_sd), (n_j_va, n_j_va_sd)],
]
LAST_PANELS = [
    [(l_a_nonopt, l_a_nonopt_sd), (l_a_true, l_a_true_sd), (l_a_false, l_a_false_sd)],
    [(l_b_nonopt, l_b_nonopt_sd), (l_b_true, l_b_true_sd), (l_b_false, l_b_false_sd)],
    [(l_c_nonopt, l_c_nonopt_sd), (l_c_true, l_c_true_sd), (l_c_false, l_c_false_sd)],
    [(l_d_nonopt, l_d_nonopt_sd), (l_d_true, l_d_true_sd), (l_d_false, l_d_false_sd)],
    [(l_e_nonopt, l_e_nonopt_sd), (l_e_true, l_e_true_sd), (l_e_false, l_e_false_sd)],
    [(l_f_nonopt, l_f_nonopt_sd), (l_f_true, l_f_true_sd), (l_f_false, l_f_false_sd)],
    [(l_g_nonopt, l_g_nonopt_sd), (l_g_true, l_g_true_sd), (l_g_false, l_g_false_sd)],
    [(l_h_nonopt, l_h_nonopt_sd), (l_h_true, l_h_true_sd), (l_h_false, l_h_false_sd)],
    [(l_i_nonopt, l_i_nonopt_sd), (l_i_true, l_i_true_sd), (l_i_false, l_i_false_sd)],
    [(l_j_nonopt, l_j_nonopt_sd), (l_j_true, l_j_true_sd), (l_j_false, l_j_false_sd)],
]

for gname, panels in (("true", TRUE_PANELS), ("nonopt", NONOPT_PANELS), ("last", LAST_PANELS)):
    for k, panel_series in enumerate(panels):
        for m, (mean, sd) in enumerate(panel_series):
            if len(mean) != 36 or len(sd) != 36:
                raise ValueError(f"{gname} panel {k} series {m}: {len(mean)} / {len(sd)}")

# ---------------- drawing ----------------
FONT = "DejaVu Serif"
INK = "#262626"
FRAME_W = 135
TOP_B = 16
MINUS_FMT = "return tick < 0 ? '\u2212' + (-tick) : '' + tick;"
NO_LABELS = "for (const i of indices) { indices.unset(i) }\nreturn indices"


def hide_labels(ax):
    ax.major_label_policy = CustomLabelingPolicy(code=NO_LABELS)
    ax.major_label_text_font_size = "1px"
    ax.major_label_standoff = 0


def style_main_axis(ax, labels_on):
    ax.axis_line_color = INK
    ax.axis_line_width = 1.6
    ax.major_tick_in = 4
    ax.major_tick_out = 0
    ax.minor_tick_in = 2
    ax.minor_tick_out = 0
    ax.major_tick_line_color = INK
    ax.minor_tick_line_color = INK
    ax.major_tick_line_width = 1
    ax.minor_tick_line_width = 0.8
    ax.major_label_text_font = FONT
    ax.major_label_text_color = "#333333"
    ax.axis_label_text_font = FONT
    ax.axis_label_text_font_size = "8px"
    ax.axis_label_text_font_style = "normal"
    ax.axis_label_text_color = "#333333"
    ax.axis_label_standoff = 1
    if labels_on:
        ax.major_label_text_font_size = "8px"
        ax.major_label_standoff = 2
    else:
        hide_labels(ax)


def edge_axis(ticker):
    ax = LinearAxis(ticker=ticker)
    ax.axis_line_color = None
    ax.major_tick_in = 3
    ax.major_tick_out = 0
    ax.minor_tick_in = 2
    ax.minor_tick_out = 0
    ax.major_tick_line_color = INK
    ax.minor_tick_line_color = INK
    ax.major_tick_line_width = 1
    ax.minor_tick_line_width = 1
    hide_labels(ax)
    return ax


def panel(col, title, series, colors, dashes, y_range, y_step, y_minor, frame_h, bottom_b):
    left_b = 36 if col == 0 else 15
    right_b = 17 if col == 4 else 2
    p = figure(width=left_b + FRAME_W + right_b, height=TOP_B + frame_h + bottom_b,
               x_range=Range1d(0, 35), y_range=Range1d(*y_range), title=title,
               output_backend="svg", toolbar_location=None,
               min_border_left=left_b, min_border_right=right_b,
               min_border_top=TOP_B, min_border_bottom=bottom_b)
    p.outline_line_color = None
    p.background_fill_color = "white"
    p.border_fill_color = "white"
    p.title.text_font = FONT
    p.title.text_font_size = "8.5px"
    p.title.text_font_style = "normal"
    p.title.text_color = "#222222"
    p.title.align = "center"
    p.title.standoff = 2

    xt = SingleIntervalTicker(interval=10, num_minor_ticks=5)
    yt = SingleIntervalTicker(interval=y_step, num_minor_ticks=y_minor)
    p.xaxis.ticker = xt
    p.yaxis.ticker = yt
    p.xgrid.ticker = xt
    p.ygrid.ticker = yt
    p.grid.grid_line_color = "#e4e4e4"
    p.grid.grid_line_width = 1
    style_main_axis(p.xaxis[0], True)
    style_main_axis(p.yaxis[0], col == 0)
    p.xaxis.axis_label = "Layer"
    p.yaxis.formatter = CustomJSTickFormatter(code=MINUS_FMT)
    if col == 0:
        p.yaxis.axis_label = "% Change in Probability"
    p.add_layout(edge_axis(xt), "above")
    p.add_layout(edge_axis(yt), "right")

    p.add_layout(Span(location=0, dimension="width", line_color="#9a9a9a",
                      line_dash="2 2", line_width=1.3, level="underlay"))

    sources = []
    for (mean, sd), color in zip(series, colors):
        lo = [m - s for m, s in zip(mean, sd)]
        hi = [m + s for m, s in zip(mean, sd)]
        src = ColumnDataSource(dict(layer=LAYERS, mean=mean, lo=lo, hi=hi))
        sources.append(src)
        p.varea(x="layer", y1="lo", y2="hi", source=src, fill_color=color, fill_alpha=0.2)
    for src, color, dash in zip(sources, colors, dashes):
        p.line(x="layer", y="mean", source=src, line_color=color, line_width=1.4, line_dash=dash)
    return p


def legend_bar(labels, colors, dashes, height, margin):
    p = figure(width=796, height=height, x_range=Range1d(0, 1), y_range=Range1d(0, 1),
               x_axis_location=None, y_axis_location=None,
               output_backend="svg", toolbar_location=None,
               min_border_left=16, min_border_right=0, min_border_top=0, min_border_bottom=0)
    p.grid.visible = False
    p.outline_line_color = None
    items = []
    for lab, c, d in zip(labels, colors, dashes):
        # the key line sits outside the visible range; only its legend sample shows
        r = p.line(x=[5, 6], y=[5, 5], line_color=c, line_width=1.6, line_dash=d)
        items.append(LegendItem(label=lab, renderers=[r]))
    leg = Legend(items=items, orientation="horizontal", location="bottom_center",
                 margin=margin, padding=0, spacing=20, glyph_width=24, glyph_height=12,
                 label_height=12, label_standoff=7, border_line_color=None,
                 background_fill_alpha=0, label_text_font=FONT,
                 label_text_font_size="9.5px", label_text_color="#222222")
    p.add_layout(leg)
    return p


def panel_row(panels, idx, colors, dashes, y_range, y_step, y_minor, frame_h, bottom_b):
    figs = []
    for col, k in enumerate(idx):
        figs.append(panel(col, TASKS[k], panels[k], colors, dashes, y_range, y_step,
                          y_minor, frame_h, bottom_b))
    return row(*figs)


FIRST = [0, 1, 2, 3, 4]
SECOND = [5, 6, 7, 8, 9]

layout = column(
    legend_bar(TRUE_LABELS, TRUE_COLORS, TRUE_DASH, 17, 0),
    panel_row(TRUE_PANELS, FIRST, TRUE_COLORS, TRUE_DASH, (-70, 13.5), 20, 4, 135, 24),
    panel_row(TRUE_PANELS, SECOND, TRUE_COLORS, TRUE_DASH, (-93.5, 19), 20, 4, 134, 26),
    legend_bar(NONOPT_LABELS, NONOPT_COLORS, NONOPT_DASH, 32, 4),
    panel_row(NONOPT_PANELS, FIRST, NONOPT_COLORS, NONOPT_DASH, (-39, 10.3), 10, 5, 131, 24),
    panel_row(NONOPT_PANELS, SECOND, NONOPT_COLORS, NONOPT_DASH, (-38.7, 9.5), 10, 5, 135, 26),
    legend_bar(LAST_LABELS, LAST_COLORS, LAST_DASH, 28, 2),
    panel_row(LAST_PANELS, FIRST, LAST_COLORS, LAST_DASH, (-46, 40), 20, 4, 134, 24),
    panel_row(LAST_PANELS, SECOND, LAST_COLORS, LAST_DASH, (-56, 39), 20, 4, 134, 27),
)

open("out.html", "w").write(file_html(layout, INLINE))
